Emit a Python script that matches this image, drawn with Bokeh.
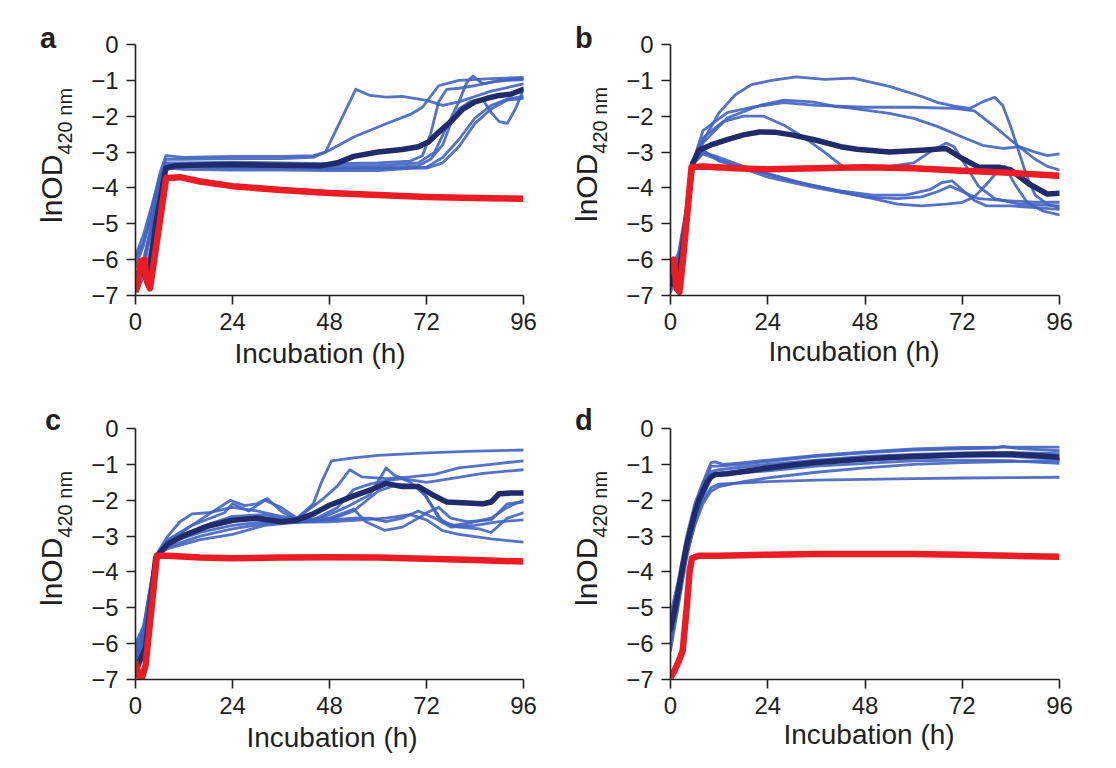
from bokeh.plotting import figure
from bokeh.models import Range1d, FixedTicker, GridBox, Div
from bokeh.embed import file_html
from bokeh.resources import INLINE

# ---------------- data (hours, lnOD420) ----------------
x_ticks = [0, 24, 48, 72, 96]
y_ticks = [-7, -6, -5, -4, -3, -2, -1, 0]
y_tick_labels = ["−7", "−6", "−5", "−4", "−3", "−2", "−1", "0"]
panel_letters = ["a", "b", "c", "d"]
x_title = "Incubation (h)"
y_title_main = "lnOD"
y_title_sub = "420 nm"

# panel a
a_rep_h = [
    [0, 2, 4, 6, 7.5, 12, 24, 36, 44, 47, 50, 53, 54.5, 58, 62, 66, 72, 76, 80, 84, 88, 92, 96],
    [0, 2, 4, 6, 7.5, 12, 24, 36, 44, 48, 54, 62, 68, 71, 73, 75, 80, 88, 96],
    [0, 2, 4, 6, 7.5, 12, 24, 36, 48, 60, 68, 71, 73, 75, 77, 80, 84, 88, 92, 96],
    [0, 2, 4, 6, 7.5, 12, 24, 36, 48, 60, 70, 73, 76, 78, 80, 83, 86, 88, 90, 92, 94, 96],
    [0, 2, 4, 6, 7.5, 12, 24, 36, 48, 60, 72, 76, 80, 84, 88, 92, 96],
    [0, 2, 4, 6, 7.5, 12, 24, 36, 48, 60, 72, 76, 80, 84, 88, 92, 96],
    [0, 2, 4, 6, 7.5, 12, 24, 36, 48, 60, 70, 74, 77, 80, 82, 83.5, 86, 90, 96],
]
a_rep_v = [
    [-6.2, -5.6, -4.6, -3.6, -3.1, -3.15, -3.12, -3.12, -3.1, -3.0, -2.3, -1.6, -1.25, -1.42, -1.47, -1.45, -1.56, -1.7, -1.6, -1.45, -1.3, -1.2, -1.1],
    [-6.8, -6.2, -5.2, -4.0, -3.2, -3.2, -3.18, -3.18, -3.15, -2.95, -2.58, -2.21, -1.95, -1.75, -1.45, -1.15, -1.0, -0.95, -0.92],
    [-6.5, -6.0, -5.0, -3.9, -3.3, -3.3, -3.28, -3.3, -3.32, -3.3, -3.25, -3.1, -2.5, -1.6, -1.25, -1.22, -1.15, -1.05, -1.0, -0.98],
    [-5.9, -5.3, -4.5, -3.7, -3.4, -3.42, -3.45, -3.45, -3.47, -3.45, -3.38, -3.2, -2.8, -2.2, -1.8, -1.58, -1.55, -1.9, -2.15, -2.2, -1.8, -1.25],
    [-6.9, -6.5, -5.6, -4.2, -3.45, -3.48, -3.5, -3.5, -3.52, -3.52, -3.42, -3.15, -2.65, -2.05, -1.7, -1.52, -1.45],
    [-6.6, -6.1, -5.0, -4.0, -3.38, -3.4, -3.4, -3.42, -3.45, -3.45, -3.45, -3.3, -2.85, -2.2, -1.8, -1.55, -1.5],
    [-6.0, -5.5, -4.8, -3.8, -3.35, -3.35, -3.35, -3.35, -3.38, -3.38, -3.3, -3.0, -2.3, -1.6, -1.05, -0.88, -1.1, -1.0, -0.95],
]
a_mean_h = [0.5, 1.5, 2.5, 3.5, 5, 7.5, 10, 16, 24, 36, 46, 50, 54, 60, 66, 70, 72.5, 75, 78, 81, 84, 87, 90, 93, 96]
a_mean_v = [-6.6, -6.2, -6.5, -6.3, -5.0, -3.45, -3.38, -3.36, -3.35, -3.37, -3.38, -3.3, -3.12, -3.0, -2.93, -2.85, -2.72, -2.45, -2.15, -1.8, -1.6, -1.5, -1.42, -1.38, -1.25]
a_ctrl_h = [0, 0.6, 1.2, 2.2, 2.8, 3.6, 7.6, 11, 16, 24, 36, 48, 60, 72, 84, 96]
a_ctrl_v = [-6.9, -6.7, -6.05, -6.0, -6.6, -6.8, -3.72, -3.7, -3.82, -3.95, -4.06, -4.14, -4.2, -4.25, -4.28, -4.3]

# panel b
b_rep_h = [
    [0, 2, 4, 5.5, 8, 12, 16, 20, 25, 31, 38, 45, 54, 62, 66, 70, 74, 77, 80, 82, 84, 86, 88, 90, 93, 96],
    [0, 2, 4, 5.5, 8, 14, 22, 28, 35, 41, 45, 54, 60, 66, 72, 77, 82, 86, 90, 93, 96],
    [0, 2, 4, 5.5, 8, 13, 18, 23, 28, 33, 38, 43, 48, 54, 60, 64, 68, 70, 73, 76, 80, 86, 96],
    [0, 2, 4, 5.5, 8, 14, 20, 28, 36, 48, 60, 70, 75, 80, 85, 90, 93, 96],
    [0, 2, 4, 5.5, 8, 12, 18, 24, 33, 41, 50, 58, 64, 67, 69.5, 72, 75, 78, 84, 90, 96],
    [0, 2, 4, 5.5, 8, 12, 20, 30, 40, 50, 56, 62, 68, 72, 75, 78, 81, 82.5, 85, 88, 92, 96],
    [0, 2, 4, 5.5, 8, 14, 24, 36, 48, 56, 62, 66, 69, 72, 76, 82, 90, 96],
]
b_rep_v = [
    [-6.5, -6.0, -4.6, -3.3, -2.7, -1.9, -1.4, -1.12, -1.0, -0.9, -0.97, -0.94, -1.17, -1.45, -1.62, -1.72, -1.78, -1.6, -1.47, -1.7, -2.3, -3.0, -3.7, -4.2, -4.45, -4.55],
    [-6.8, -6.3, -4.9, -3.3, -2.75, -2.05, -1.7, -1.55, -1.6, -1.73, -1.78, -1.92, -2.06, -2.29, -2.58, -2.81, -2.9, -2.85, -3.0, -3.1, -3.05],
    [-6.3, -5.8, -4.5, -3.3, -2.6, -2.15, -2.0, -2.0, -2.25, -2.6, -3.0, -3.45, -3.4, -3.4, -3.3, -3.0, -2.75, -2.85, -3.4, -3.95, -4.3, -4.45, -4.5],
    [-6.6, -6.2, -4.8, -3.3, -2.4, -1.9, -1.75, -1.62, -1.7, -1.75, -1.75, -1.78, -1.85, -2.29, -2.76, -3.2, -3.4, -3.5],
    [-6.9, -6.4, -5.0, -3.35, -3.0, -3.15, -3.4, -3.6, -3.88, -4.07, -4.2, -4.2, -4.05, -3.85, -3.8, -4.05, -4.35, -4.5, -4.5, -4.55, -4.6],
    [-6.4, -5.9, -4.6, -3.35, -2.95, -3.25, -3.5, -3.8, -4.05, -4.3, -4.45, -4.5, -4.45, -4.4, -4.25, -3.9, -3.5, -3.4, -3.9, -4.4, -4.65, -4.75],
    [-6.7, -6.1, -4.7, -3.35, -3.05, -3.3, -3.7, -4.0, -4.25, -4.3, -4.25, -4.1, -3.95, -4.1, -4.3, -4.35, -4.4, -4.4],
]
b_mean_h = [0, 1, 2.5, 4, 5.5, 7, 10, 14, 18, 22, 26, 30, 36, 42, 46, 54, 62, 68, 72, 76, 81, 84, 88.5, 93, 96]
b_mean_v = [-6.7, -6.4, -6.1, -4.8, -3.3, -2.95, -2.8, -2.65, -2.52, -2.44, -2.45, -2.52, -2.67, -2.85, -2.92, -3.0, -2.95, -2.9, -3.18, -3.42, -3.42, -3.5, -3.89, -4.17, -4.15]
b_ctrl_h = [0, 0.8, 1.5, 2.2, 3, 5.2, 8, 16, 24, 36, 48, 60, 72, 84, 96]
b_ctrl_v = [-6.2, -6.0, -6.8, -6.9, -6.1, -3.42, -3.4, -3.45, -3.48, -3.45, -3.42, -3.45, -3.52, -3.58, -3.66]

# panel c
c_rep_h = [
    [0, 2, 5, 8, 11, 14, 18, 24, 30, 36, 40, 44, 46, 48.5, 54, 60, 72, 84, 96],
    [0, 2, 5, 8, 14, 22, 24, 28, 32, 36, 40, 46, 50, 53, 56, 62, 68, 74, 80, 88, 96],
    [0, 2, 5, 8, 16, 24, 30, 36, 44, 50, 54, 58, 62, 66, 72, 78, 86, 96],
    [0, 2, 5, 8, 16, 23.5, 27, 30, 32.6, 36, 40, 46, 52, 58, 62, 64, 68, 72, 75, 78, 82, 88, 92, 96],
    [0, 2, 5, 8, 16, 24, 32, 40, 48, 54, 60, 65, 70, 73, 76, 80, 85, 88, 92, 96],
    [0, 2, 5, 8, 16, 24, 32, 40, 48, 54, 58, 62, 66, 70, 74, 78, 84, 90, 96],
    [0, 2, 5, 8, 16, 24, 32, 40, 48, 56, 62, 68, 72, 76, 80, 88, 96],
    [0, 2, 5, 8, 16, 24, 32, 40, 48, 54, 57, 61.6, 66, 70, 72, 75, 78, 82, 88, 92, 96],
]
c_rep_v = [
    [-6.2, -5.6, -3.55, -3.0, -2.6, -2.38, -2.35, -2.2, -2.3, -2.45, -2.5, -2.1, -1.5, -0.9, -0.82, -0.75, -0.68, -0.63, -0.6],
    [-6.6, -5.9, -3.55, -3.1, -2.7, -2.35, -2.1, -2.3, -2.0, -2.2, -2.5, -2.0, -1.6, -1.15, -1.35, -1.4, -1.35, -1.28, -1.1, -1.0, -0.9],
    [-6.4, -5.8, -3.55, -3.2, -2.8, -2.6, -2.45, -2.55, -2.55, -2.2, -1.7, -1.55, -1.45, -1.4, -1.5, -1.4, -1.25, -1.15],
    [-6.0, -5.5, -3.55, -3.15, -2.55, -2.0, -2.15, -2.1, -1.95, -2.3, -2.55, -2.5, -2.2, -1.85, -1.1, -1.3, -1.5, -1.9, -2.5, -2.7, -2.65, -2.5, -2.2, -2.0],
    [-6.7, -6.0, -3.55, -3.25, -2.75, -2.45, -2.4, -2.6, -2.55, -2.3, -1.75, -1.55, -1.6, -2.1, -2.6, -2.75, -2.8, -2.9, -2.5, -2.35],
    [-6.3, -5.7, -3.55, -3.3, -3.0, -2.8, -2.65, -2.6, -2.55, -2.5, -2.5, -2.6, -2.5, -2.3, -2.5, -2.75, -2.7, -2.6, -2.55],
    [-6.5, -5.9, -3.55, -3.35, -3.1, -2.95, -2.7, -2.62, -2.6, -2.55, -2.5, -2.4, -2.55, -2.85, -2.95, -3.08, -3.17],
    [-6.1, -5.6, -3.55, -3.2, -2.9, -2.7, -2.6, -2.62, -2.5, -2.25, -2.6, -2.84, -2.75, -2.5, -2.35, -2.2, -2.5, -2.6, -2.55, -2.1, -2.05],
]
c_mean_h = [0, 1, 2.5, 5, 8, 12, 18, 24, 30, 36, 40, 44, 48, 54, 58, 62, 66, 70, 74, 77, 82, 86, 88, 90, 93, 96]
c_mean_v = [-6.8, -6.5, -6.1, -3.6, -3.22, -2.98, -2.72, -2.56, -2.5, -2.6, -2.55, -2.38, -2.14, -1.88, -1.72, -1.53, -1.62, -1.62, -1.88, -2.05, -2.08, -2.1, -2.05, -1.82, -1.8, -1.8]
c_ctrl_h = [0, 0.8, 1.5, 2.5, 5.3, 8, 16, 24, 36, 48, 60, 72, 84, 96]
c_ctrl_v = [-6.5, -6.9, -7.0, -6.6, -3.55, -3.55, -3.6, -3.62, -3.6, -3.59, -3.6, -3.63, -3.67, -3.71]

# panel d
d_rep_h = [
    [0, 2, 4, 6, 8, 10, 11, 13, 18, 24, 36, 48, 60, 72, 84, 96],
    [0, 2, 4, 6, 8, 10, 12, 18, 24, 36, 48, 60, 72, 80, 82, 85, 96],
    [0, 2, 4, 6, 8, 10, 12, 24, 36, 48, 60, 72, 84, 96],
    [0, 2, 4, 6, 8, 10, 12, 24, 36, 48, 60, 72, 84, 96],
    [0, 2, 4, 6, 8, 10, 12, 24, 36, 48, 60, 72, 84, 96],
    [0, 2, 4, 6, 8, 10, 12, 24, 36, 48, 60, 72, 84, 96],
    [0, 2, 4, 6, 8, 10, 12, 18, 24, 36, 48, 60, 72, 84, 96],
]
d_rep_v = [
    [-5.2, -4.2, -3.0, -2.1, -1.5, -0.95, -0.93, -1.0, -0.95, -0.88, -0.75, -0.65, -0.57, -0.53, -0.52, -0.52],
    [-5.5, -4.4, -3.2, -2.25, -1.6, -1.05, -1.05, -1.0, -0.92, -0.78, -0.68, -0.6, -0.57, -0.55, -0.5, -0.55, -0.62],
    [-5.8, -4.6, -3.4, -2.4, -1.75, -1.2, -1.15, -1.0, -0.88, -0.78, -0.72, -0.68, -0.67, -0.7],
    [-6.2, -4.9, -3.6, -2.6, -1.9, -1.4, -1.25, -1.1, -0.97, -0.88, -0.82, -0.78, -0.78, -0.85],
    [-6.0, -4.8, -3.5, -2.5, -1.85, -1.35, -1.3, -1.18, -1.05, -0.97, -0.9, -0.88, -0.9, -0.97],
    [-5.4, -4.5, -3.4, -2.6, -2.0, -1.65, -1.55, -1.48, -1.44, -1.42, -1.4, -1.38, -1.37, -1.36],
    [-5.9, -4.7, -3.5, -2.7, -2.1, -1.75, -1.62, -1.48, -1.38, -1.22, -1.1, -1.0, -0.95, -0.92, -0.9],
]
d_mean_h = [0, 1, 2, 3, 4, 5, 6, 7, 8, 9, 10, 11, 14, 18, 24, 30, 36, 42, 48, 54, 60, 66, 72, 78, 84, 90, 96]
d_mean_v = [-5.6, -5.1, -4.5, -3.85, -3.25, -2.8, -2.35, -2.0, -1.75, -1.5, -1.35, -1.28, -1.26, -1.2, -1.1, -1.02, -0.95, -0.9, -0.85, -0.81, -0.78, -0.76, -0.73, -0.72, -0.72, -0.75, -0.8]
d_ctrl_h = [0, 1, 2, 3, 4, 4.7, 5.3, 7, 12, 24, 36, 48, 60, 72, 84, 96]
d_ctrl_v = [-6.95, -6.75, -6.5, -6.2, -5.0, -4.0, -3.62, -3.55, -3.55, -3.52, -3.5, -3.5, -3.5, -3.52, -3.55, -3.58]

# ---------------- styling ----------------
FONT = "Liberation Sans"
INK = "#231f20"
BLUE = "#4163c0"
NAVY = "#1f2b6b"
RED = "#ec1c24"

# frame geometry (pixels): left column / right column, top row / bottom row
FRAME_W = [388, 389]
FRAME_H = 251
BORDER_L = [135, 130]
BORDER_R = [17, 20]
BORDER_T = [44, 45]
BORDER_B = [88, 80]


def make_panel(rep_h, rep_v, mean_h, mean_v, ctrl_h, ctrl_v, col, rw):
    p = figure(frame_width=FRAME_W[col], frame_height=FRAME_H,
               x_range=Range1d(0, 96), y_range=Range1d(-7, 0),
               output_backend="svg", toolbar_location=None,
               min_border_left=BORDER_L[col], min_border_right=BORDER_R[col],
               min_border_top=BORDER_T[rw], min_border_bottom=BORDER_B[rw],
               background_fill_color=None, border_fill_color=None)
    p.outline_line_color = None
    p.grid.visible = False
    p.xaxis.ticker = FixedTicker(ticks=x_ticks)
    p.yaxis.ticker = FixedTicker(ticks=y_ticks)
    p.yaxis.major_label_overrides = {t: s for t, s in zip(y_ticks, y_tick_labels)}
    for ax in (p.xaxis[0], p.yaxis[0]):
        ax.axis_line_color = INK
        ax.axis_line_width = 1.6
        ax.major_tick_line_color = INK
        ax.major_tick_line_width = 1.6
        ax.major_tick_out = 9
        ax.major_tick_in = 0
        ax.minor_tick_line_color = None
        ax.major_label_text_font = FONT
        ax.major_label_text_font_size = "24px"
        ax.major_label_text_color = INK
        ax.major_label_standoff = 8

    p.multi_line(rep_h, rep_v, line_color=BLUE, line_width=2.8, line_alpha=0.9,
                 line_join="round", line_cap="round")
    p.line(mean_h, mean_v, line_color=NAVY, line_width=5.5, line_join="round", line_cap="round")
    p.line(ctrl_h, ctrl_v, line_color=RED, line_width=6.5, line_join="round", line_cap="butt")
    return p


pa = make_panel(a_rep_h, a_rep_v, a_mean_h, a_mean_v, a_ctrl_h, a_ctrl_v, 0, 0)
pb = make_panel(b_rep_h, b_rep_v, b_mean_h, b_mean_v, b_ctrl_h, b_ctrl_v, 1, 0)
pc = make_panel(c_rep_h, c_rep_v, c_mean_h, c_mean_v, c_ctrl_h, c_ctrl_v, 0, 1)
pd = make_panel(d_rep_h, d_rep_v, d_mean_h, d_mean_v, d_ctrl_h, d_ctrl_v, 1, 1)

# ---------------- text layer (page pixels) ----------------
TOTAL_W = BORDER_L[0] + FRAME_W[0] + BORDER_R[0] + BORDER_L[1] + FRAME_W[1] + BORDER_R[1]
TOTAL_H = BORDER_T[0] + FRAME_H + BORDER_B[0] + BORDER_T[1] + FRAME_H + BORDER_B[1]

letter_pos = [(40, 48), (575, 48), (45, 430), (575, 430)]
ylab_pos = [(61.5, 223), (596.5, 222), (61.5, 606), (596.5, 606)]
xlab_pos = [(320, 363), (854, 361), (332, 747), (869, 744)]

parts = []
for (lx, ly), letter in zip(letter_pos, panel_letters):
    parts.append(f'<text x="{lx}" y="{ly}" font-size="29" font-weight="bold">{letter}</text>')
for (yx, yy) in ylab_pos:
    parts.append(f'<text transform="translate({yx},{yy}) rotate(-90)" font-size="30">{y_title_main}'
                 f'<tspan font-size="20" dy="10">{y_title_sub}</tspan></text>')
for (xx, xy) in xlab_pos:
    parts.append(f'<text x="{xx}" y="{xy}" font-size="28" text-anchor="middle">{x_title}</text>')

svg = (f'<svg xmlns="http://www.w3.org/2000/svg" width="{TOTAL_W}" height="{TOTAL_H}" '
       f'style="display:block" font-family="{FONT}, Arial, sans-serif" fill="{INK}">'
       + "".join(parts) + "</svg>")
texts = Div(text=svg, width=TOTAL_W, height=TOTAL_H, margin=0)

grid = GridBox(children=[(pa, 0, 0), (pb, 0, 1), (pc, 1, 0), (pd, 1, 1), (texts, 0, 0, 2, 2)],
               spacing=0)

with open("out.html", "w") as f:
    f.write(file_html(grid, INLINE))
